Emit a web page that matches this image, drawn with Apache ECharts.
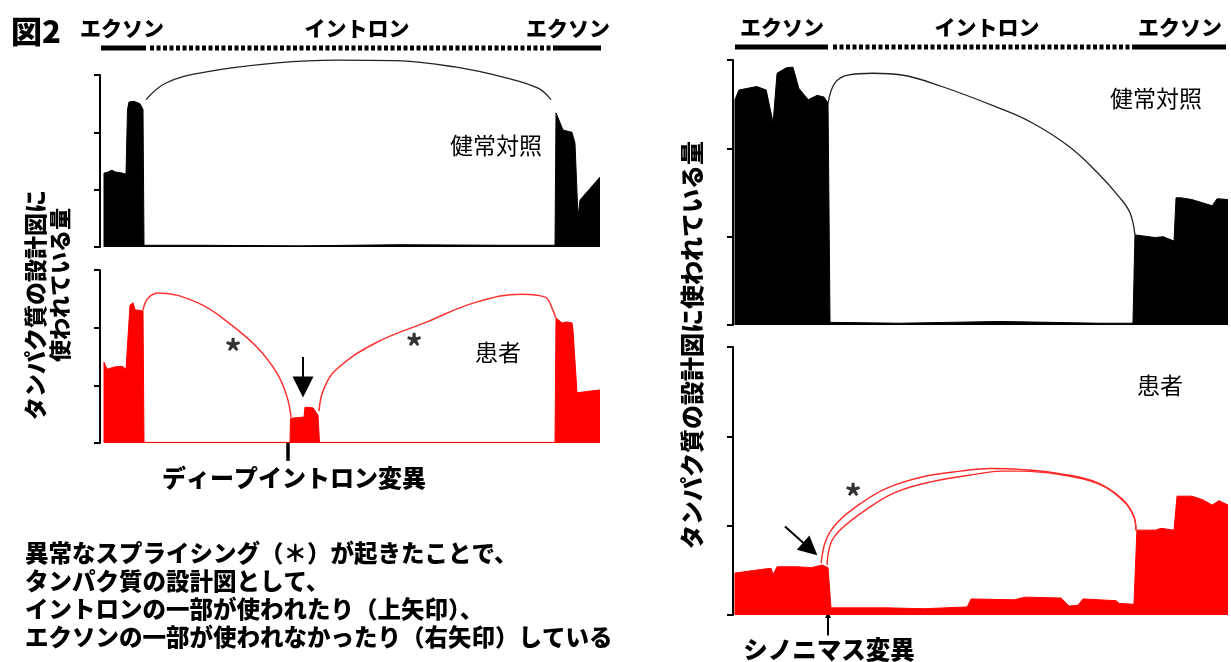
<!DOCTYPE html>
<html>
<head>
<meta charset="utf-8">
<style>
  html, body { margin: 0; height: 100%; background: #fff; }
  #chart { width: 1231px; height: 662px; }
</style>
<script src="https://cdn.jsdelivr.net/npm/echarts@6/dist/echarts.min.js"></script>
</head>
<body>
<div id="chart"></div>
<script>
// x は各パネルとも 0-100 の相対位置, y は 0-3 の相対量
// 図2 左: ディープイントロン変異
var ltCoverage = [[0.8,0],[0.8,1.29],[1.4,1.30],[2.4,1.34],[3.0,1.31],[4.4,1.29],[5.2,1.27],[5.5,2.40],[5.8,2.53],[6.8,2.54],[8.0,2.50],[8.6,2.40],[8.8,0.03],
  [20,0.03],[40,0.02],[60,0.04],[80,0.03],[91,0.03],[91.2,2.34],[92.6,2.04],[94.4,2.00],[95.0,1.81],[95.6,0.52],[96.0,0.82],[98.0,1.02],[100,1.22]];
var ltArc = [[9.2,2.57],[13.2,2.86],[21,3.05],[35.4,3.21],[47.2,3.26],[59,3.25],[71,3.14],[81.2,2.95],[87.6,2.77],[90.2,2.57]];

var lbCoverage = [[0.8,0],[0.8,1.40],[1.4,1.28],[3.0,1.32],[4.4,1.33],[5.2,1.28],[5.6,1.30],[6.0,2.39],[6.6,2.43],[7.0,2.31],[8.6,2.29],[8.8,0.01],
  [38.0,0.01],[38.1,0.43],[40.8,0.45],[41.0,0.62],[42.6,0.61],[43.6,0.48],[43.9,0.01],
  [91.0,0.01],[91.2,2.17],[92.4,2.08],[93.4,2.10],[94.4,2.08],[94.6,1.96],[95.4,0.87],[98,0.90],[100,0.92]];
var lbArcLeft = [[8.6,2.30],[9.6,2.51],[11.8,2.60],[19.6,2.43],[25.8,2.08],[31.4,1.66],[35.4,1.21],[37.4,0.80],[38.2,0.45]];
var lbArcRight = [[43.8,0.55],[44.6,0.90],[47.2,1.27],[55.0,1.73],[65.4,2.10],[74.8,2.43],[84.4,2.58],[89.0,2.53],[90.6,2.30],[91.1,2.17]];
var lbArrow = [[40.6,1.49],[40.6,0.97]];
var lbVariant = [[37.6,0],[37.6,-0.31]];

// 図2 右: シノニマス変異
var rtCoverage = [[0.4,0],[0.4,2.55],[1.2,2.66],[4.8,2.70],[6.7,2.66],[8.1,2.29],[8.9,2.85],[10.7,2.91],[12.1,2.92],[13.3,2.68],[15.2,2.55],[17.0,2.60],[18.4,2.58],[19.2,2.51],[19.6,0.03],
  [33.7,0.02],[53.9,0.04],[64,0.03],[74.1,0.02],[80.8,0.02],[81.2,1.02],[81.6,1.00],[85.3,0.99],[86.9,1.00],[89.1,0.95],[89.5,1.44],[90.5,1.44],[92.7,1.42],[96.8,1.35],[97.8,1.43],[100,1.42]];
var rtArc = [[19.2,2.51],[20.6,2.74],[23.2,2.83],[28.3,2.85],[34.1,2.83],[42.2,2.70],[53.1,2.47],[60.4,2.29],[67.9,2.02],[73.7,1.72],[78.0,1.45],[80.2,1.27],[81.2,1.02]];

var rbCoverage = [[0.4,0],[0.4,0.47],[7.1,0.52],[7.7,0.52],[8.1,0.45],[8.9,0.54],[12.9,0.54],[15.8,0.53],[18.0,0.56],[19.2,0.53],[19.8,0.08],
  [31.1,0.08],[38.6,0.07],[47.3,0.09],[48.1,0.18],[56.8,0.17],[59.0,0.20],[66.3,0.19],[67.9,0.10],[69.7,0.11],[70.7,0.18],[77.4,0.16],[78.0,0.13],[81.0,0.12],
  [81.6,0.95],[85.3,0.95],[86.5,0.97],[89.1,0.95],[89.7,1.33],[92.7,1.33],[94.9,1.29],[96.8,1.23],[98.2,1.28],[100,1.23]];
var rbArcOuter = [[17.8,0.58],[18.8,0.84],[21.0,1.03],[25.3,1.23],[31.1,1.42],[38.6,1.55],[45.9,1.61],[52.0,1.64],[58.0,1.63],[66.3,1.58],[73.7,1.48],[78.8,1.29],[81.0,1.10],[81.4,0.95]];
var rbArcInner = [[19.0,0.56],[19.8,0.81],[22.0,0.97],[26.9,1.18],[32.7,1.37],[40.0,1.49],[49.5,1.58],[54.0,1.61],[58.0,1.61],[66.3,1.57],[73.7,1.47],[78.8,1.28],[81.0,1.10],[81.4,0.95]];
var rbArrow = [[10.5,0.99],[15.6,0.74]];
var rbVariant = [[19.2,-0.23],[19.2,0]];

var yTicks = [0, 1, 2, 3];

var JP = '"Noto Sans CJK JP", sans-serif';
var myChart = echarts.init(document.getElementById('chart'));

function grid(l, t, w, h) { return {left: l, top: t, width: w, height: h}; }
function xAx(i) { return {gridIndex: i, type: 'value', min: 0, max: 100, show: false}; }
function yAx(i, off) {
  return {
    gridIndex: i, type: 'value', min: yTicks[0], max: yTicks[yTicks.length - 1], interval: 1, offset: off,
    axisLine: {show: true, lineStyle: {color: '#000', width: 2}},
    axisTick: {show: true, length: 6, lineStyle: {color: '#000', width: 2}},
    axisLabel: {show: false}, splitLine: {show: false}
  };
}
function area(i, data, color) {
  return {type: 'line', xAxisIndex: i, yAxisIndex: i, data: data, symbol: 'none', silent: true,
    lineStyle: {color: color, width: 1}, areaStyle: {color: color, opacity: 1}};
}
function arc(i, data, color, w) {
  return {type: 'line', xAxisIndex: i, yAxisIndex: i, data: data, symbol: 'none', smooth: 0.4, clip: false, silent: true,
    lineStyle: {color: color, width: w}};
}
function arrow(i, coords, size, w) {
  return {type: 'lines', coordinateSystem: 'cartesian2d', xAxisIndex: i, yAxisIndex: i, clip: false, silent: true,
    symbol: ['none', 'triangle'], symbolSize: size,
    lineStyle: {color: '#000', width: w, opacity: 1, curveness: 0},
    data: [{coords: coords}]};
}
function txt(x, y, s, size, weight, extra) {
  var o = {type: 'text', x: x, y: y, silent: true,
    style: {text: s, font: weight + ' ' + size + 'px ' + JP, fill: '#000', textAlign: 'center', verticalAlign: 'middle'}};
  if (extra) { for (var k in extra) o[k] = extra[k]; }
  return o;
}
function star(x, y) {
  return {type: 'text', x: x, y: y, silent: true,
    style: {text: '*', font: 'bold 34px ' + JP, fill: '#333', textAlign: 'center', verticalAlign: 'middle'}};
}
function bar(x1, x2, y, dashed) {
  return {type: 'line', silent: true, shape: {x1: x1, y1: y, x2: x2, y2: y},
    style: {stroke: '#000', lineWidth: 5, lineDash: dashed ? [4, 2.5] : null}};
}
function para(y, s) {
  return {type: 'text', x: 25, y: y, silent: true,
    style: {text: s, font: '900 23.5px ' + JP, fill: '#000', verticalAlign: 'middle'}};
}

var option = {
  animation: false,
  backgroundColor: '#fff',
  grid: [grid(100, 75, 500, 172), grid(100, 270, 500, 173), grid(733, 60, 495, 265), grid(733, 347, 495, 268)],
  xAxis: [xAx(0), xAx(1), xAx(2), xAx(3)],
  yAxis: [yAx(0, 3), yAx(1, 3), yAx(2, 7), yAx(3, 7)],
  series: [
    area(0, ltCoverage, '#000'),
    arc(0, ltArc, '#222', 1.3),
    area(1, lbCoverage, '#ff0000'),
    arc(1, lbArcLeft, '#ff3030', 1.5),
    arc(1, lbArcRight, '#ff3030', 1.5),
    arrow(1, lbArrow, 21, 2),
    arrow(1, lbVariant, 0.1, 3.5),
    area(2, rtCoverage, '#000'),
    arc(2, rtArc, '#222', 1.3),
    area(3, rbCoverage, '#ff0000'),
    arc(3, rbArcOuter, '#ff2a2a', 1.4),
    arc(3, rbArcInner, '#ff2a2a', 1.4),
    arrow(3, rbArrow, 19, 2),
    arrow(3, rbVariant, 6, 2)
  ],
  graphic: [
    txt(36, 31, '図2', 31, 900),
    txt(122, 28, 'エクソン', 21, 900),
    txt(357, 28, 'イントロン', 21, 900),
    txt(568, 28, 'エクソン', 21, 900),
    bar(101, 146, 48, false), bar(150, 551, 48, true), bar(553, 601, 48, false),
    txt(782, 27, 'エクソン', 21, 900),
    txt(987, 27, 'イントロン', 21, 900),
    txt(1180, 27, 'エクソン', 21, 900),
    bar(735, 828, 47, false), bar(833, 1130, 47, true), bar(1132, 1226, 47, false),
    txt(496, 145, '健常対照', 23, 'normal'),
    txt(498, 352, '患者', 23, 'normal'),
    txt(1156, 98, '健常対照', 23, 'normal'),
    txt(1160, 385, '患者', 23, 'normal'),
    star(233, 352), star(414, 347), star(853, 497),
    txt(294, 478, 'ディープイントロン変異', 24, 900),
    txt(829, 650, 'シノニマス変異', 24.5, 900),
    txt(35, 305, 'タンパク質の設計図に', 23, 900, {rotation: Math.PI / 2}),
    txt(60, 285, '使われている量', 22, 900, {rotation: Math.PI / 2}),
    txt(692, 345, 'タンパク質の設計図に使われている量', 24, 900, {rotation: Math.PI / 2}),
    para(553, '異常なスプライシング（＊）が起きたことで、'),
    para(581, 'タンパク質の設計図として、'),
    para(609, 'イントロンの一部が使われたり（上矢印）、'),
    para(637, 'エクソンの一部が使われなかったり（右矢印）している')
  ]
};

myChart.setOption(option);
</script>
</body>
</html>
